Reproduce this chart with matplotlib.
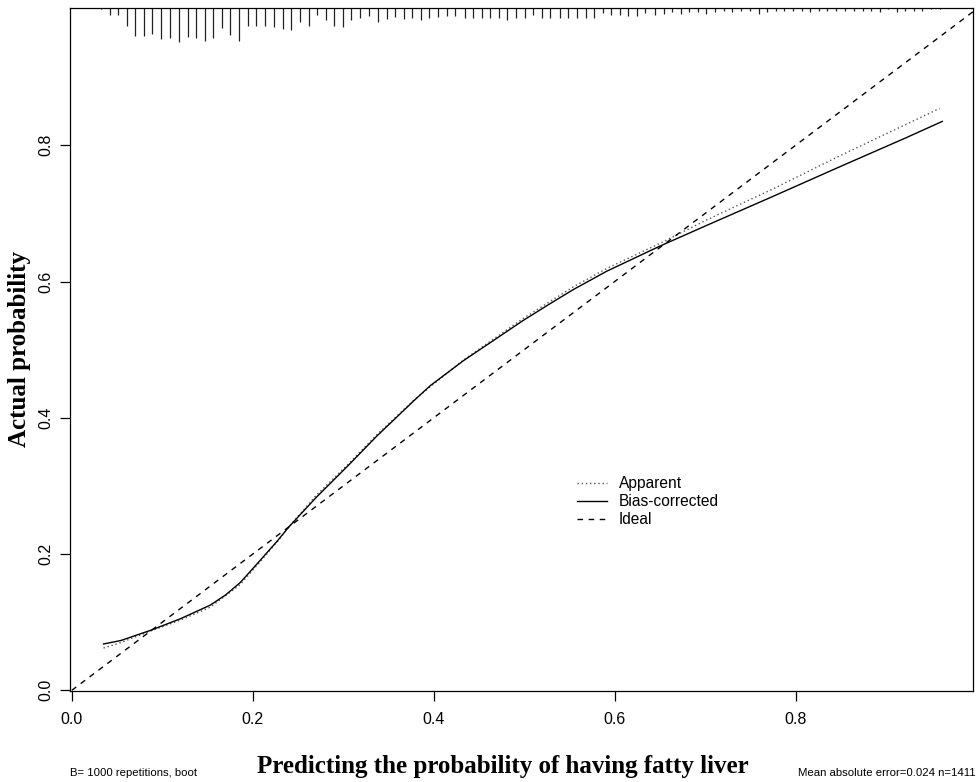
import matplotlib
matplotlib.use("Agg")
import matplotlib.pyplot as plt

# calibration curves
bias_x = [0.035, 0.054, 0.087, 0.120, 0.153, 0.170, 0.186, 0.205, 0.227, 0.240, 0.270,
          0.304, 0.337, 0.378, 0.396, 0.433, 0.470, 0.499, 0.528, 0.554, 0.591, 0.650,
          0.701, 0.775, 0.848, 0.922, 0.962]
bias_y = [0.068, 0.073, 0.088, 0.105, 0.125, 0.140, 0.158, 0.186, 0.219, 0.240, 0.283,
          0.328, 0.373, 0.425, 0.447, 0.484, 0.517, 0.543, 0.567, 0.588, 0.615, 0.652,
          0.682, 0.725, 0.768, 0.811, 0.835]

app_x = [0.035, 0.054, 0.087, 0.120, 0.153, 0.186, 0.205, 0.227, 0.240, 0.270, 0.304,
         0.337, 0.378, 0.433, 0.499, 0.554, 0.591, 0.650, 0.701, 0.775, 0.848, 0.959]
app_y = [0.062, 0.070, 0.087, 0.103, 0.122, 0.155, 0.184, 0.218, 0.240, 0.286, 0.330,
         0.375, 0.426, 0.485, 0.546, 0.592, 0.619, 0.656, 0.690, 0.736, 0.784, 0.854]

# distribution of predicted probabilities (spikes hanging from the top)
rug_x = [0.032, 0.042, 0.051, 0.061, 0.070, 0.080, 0.089, 0.099, 0.109, 0.118,
         0.128, 0.137, 0.147, 0.156, 0.166, 0.175, 0.185, 0.195, 0.204, 0.214,
         0.223, 0.233, 0.242, 0.252, 0.262, 0.271, 0.281, 0.290, 0.300, 0.309,
         0.319, 0.328, 0.338, 0.348, 0.357, 0.367, 0.376, 0.386, 0.395, 0.405,
         0.415, 0.424, 0.434, 0.443, 0.453, 0.462, 0.472, 0.481, 0.491, 0.501,
         0.510, 0.520, 0.529, 0.539, 0.548, 0.558, 0.568, 0.577, 0.587, 0.596,
         0.606, 0.615, 0.625, 0.634, 0.644, 0.654, 0.663, 0.673, 0.682, 0.692,
         0.701, 0.711, 0.721, 0.730, 0.740, 0.749, 0.759, 0.768, 0.778, 0.787,
         0.797, 0.807, 0.816, 0.826, 0.835, 0.845, 0.854, 0.864, 0.874, 0.883,
         0.893, 0.902, 0.912, 0.921, 0.931, 0.940, 0.950, 0.960]
rug_h = [0.002, 0.010, 0.010, 0.026, 0.041, 0.041, 0.038, 0.046, 0.044, 0.050,
         0.042, 0.044, 0.048, 0.044, 0.029, 0.039, 0.049, 0.026, 0.027, 0.026,
         0.028, 0.031, 0.033, 0.021, 0.026, 0.011, 0.018, 0.026, 0.028, 0.017,
         0.015, 0.012, 0.020, 0.016, 0.013, 0.016, 0.015, 0.018, 0.015, 0.013,
         0.012, 0.012, 0.015, 0.014, 0.015, 0.015, 0.014, 0.017, 0.014, 0.014,
         0.010, 0.015, 0.014, 0.014, 0.015, 0.014, 0.014, 0.015, 0.007, 0.011,
         0.010, 0.012, 0.012, 0.007, 0.011, 0.009, 0.006, 0.009, 0.006, 0.006,
         0.009, 0.006, 0.004, 0.006, 0.004, 0.004, 0.009, 0.006, 0.004, 0.004,
         0.004, 0.004, 0.006, 0.004, 0.004, 0.004, 0.004, 0.004, 0.004, 0.004,
         0.006, 0.002, 0.006, 0.004, 0.004, 0.004, 0.002, 0.002]

ideal = [0, 1]
ticks = [0.0, 0.2, 0.4, 0.6, 0.8]

plt.rcParams['font.family'] = ['Liberation Sans', 'DejaVu Sans']

fig = plt.figure(figsize=(9.78, 7.82), dpi=100)
ax = fig.add_axes([0.0716, 0.1164, 0.9233, 0.8734])

XMIN, XMAX, YMIN, YMAX = -0.002, 0.996, -0.001, 1.0015
ax.set_xlim(XMIN, XMAX)
ax.set_ylim(YMIN, YMAX)

ax.vlines(rug_x, [YMAX - h for h in rug_h], YMAX, color='#222222', lw=0.9)

ax.plot(app_x, app_y, color='#555555', lw=1.0, linestyle=(0, (1, 2)), label='Apparent')
ax.plot(bias_x, bias_y, color='black', lw=1.0, label='Bias-corrected')
ax.plot(ideal, ideal, color='black', lw=1.0, linestyle=(0, (4, 4)), label='Ideal')

ax.set_xticks(ticks)
ax.set_yticks(ticks)
ax.set_xticklabels([f"{t:.1f}" for t in ticks])
ax.set_yticklabels([f"{t:.1f}" for t in ticks], rotation=90, va='center')
ax.tick_params(direction='out', length=7.2, width=0.9, labelsize=11.5, colors='black')
ax.tick_params(axis='x', pad=8)
ax.tick_params(axis='y', pad=4.5)
for s in ax.spines.values():
    s.set_linewidth(0.9)

leg = ax.legend(loc='upper left', bbox_to_anchor=(577 / 978, 1 - 476 / 782),
                bbox_transform=fig.transFigure, frameon=False, fontsize=11.2,
                handlelength=1.9, handletextpad=0.8, labelspacing=0.2,
                borderpad=0, borderaxespad=0)

fig.text(20 / 978, 1 - 349 / 782, "Actual probability", rotation=90,
         ha='center', va='center', fontsize=18, fontweight='bold',
         family='Liberation Serif')
fig.text(503 / 978, 1 - 766 / 782, "Predicting the probability of having fatty liver",
         ha='center', va='center', fontsize=18, fontweight='bold',
         family='Liberation Serif')
fig.text(70 / 978, 1 - 773 / 782, "B= 1000 repetitions, boot",
         ha='left', va='center', fontsize=8.2)
fig.text(976 / 978, 1 - 773 / 782, "Mean absolute error=0.024 n=1411",
         ha='right', va='center', fontsize=8.2)

fig.savefig("out.png", dpi=100)
